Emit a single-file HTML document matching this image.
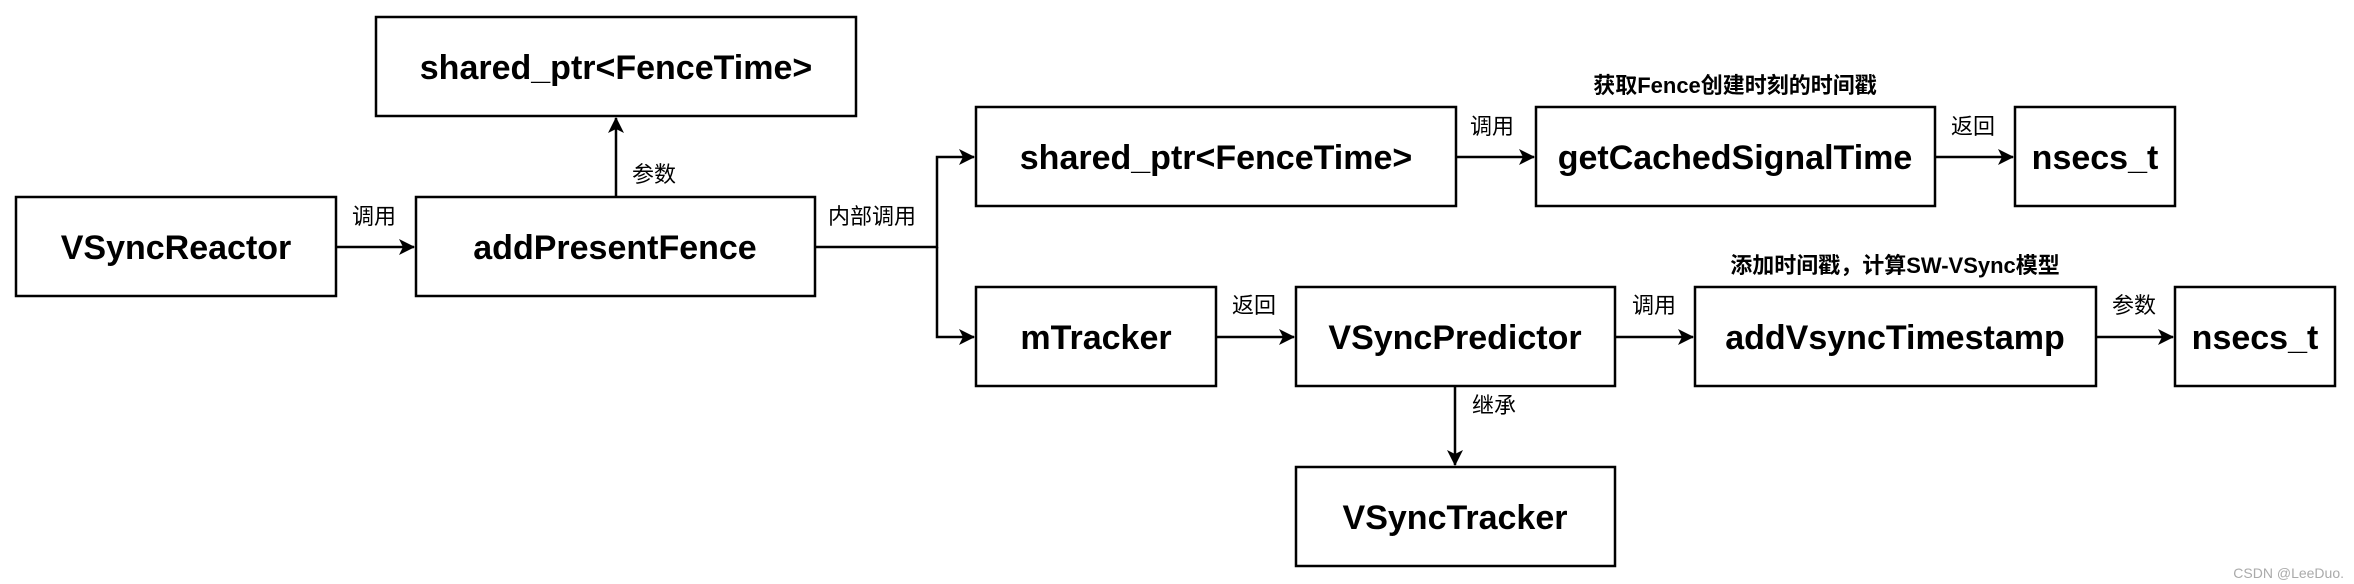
<!DOCTYPE html>
<html><head><meta charset="utf-8"><style>
html,body{margin:0;padding:0;background:#fff;}
svg{display:block;}
.b{font-family:"Liberation Sans","Noto Sans CJK SC",sans-serif;font-weight:bold;font-size:34px;fill:#000;}
.l{font-family:"Liberation Sans","Noto Sans CJK SC",sans-serif;font-size:22px;fill:#000;}
.h{font-family:"Liberation Sans","Noto Sans CJK SC",sans-serif;font-weight:bold;font-size:22px;fill:#000;}
rect{fill:#fff;stroke:#000;stroke-width:2.5;}
line,polyline{stroke:#000;stroke-width:2.5;fill:none;}
</style></head><body>
<svg width="2354" height="584" viewBox="0 0 2354 584" xmlns="http://www.w3.org/2000/svg">
<defs><marker id="a" markerWidth="18" markerHeight="18" refX="15" refY="8" orient="auto" markerUnits="userSpaceOnUse"><path d="M0,0 L16,8 L0,16 L4,8 Z" fill="#000"/></marker></defs>

<line x1="336" y1="247" x2="414" y2="247" marker-end="url(#a)"/>
<line x1="616" y1="197" x2="616" y2="118" marker-end="url(#a)"/>
<polyline points="815,247 937,247 937,157 974,157" marker-end="url(#a)"/>
<polyline points="937,247 937,337 974,337" marker-end="url(#a)"/>
<line x1="1456" y1="157" x2="1534" y2="157" marker-end="url(#a)"/>
<line x1="1935" y1="157" x2="2013" y2="157" marker-end="url(#a)"/>
<line x1="1216" y1="337" x2="1294" y2="337" marker-end="url(#a)"/>
<line x1="1615" y1="337" x2="1693" y2="337" marker-end="url(#a)"/>
<line x1="2096" y1="337" x2="2173" y2="337" marker-end="url(#a)"/>
<line x1="1455" y1="386" x2="1455" y2="465" marker-end="url(#a)"/>

<rect x="16" y="197" width="320" height="99"/>
<text class="b" x="176" y="259" text-anchor="middle">VSyncReactor</text>
<rect x="416" y="197" width="399" height="99"/>
<text class="b" x="615" y="259" text-anchor="middle">addPresentFence</text>
<rect x="376" y="17" width="480" height="99"/>
<text class="b" x="616" y="79" text-anchor="middle">shared_ptr&lt;FenceTime&gt;</text>
<rect x="976" y="107" width="480" height="99"/>
<text class="b" x="1216" y="169" text-anchor="middle">shared_ptr&lt;FenceTime&gt;</text>
<rect x="1536" y="107" width="399" height="99"/>
<text class="b" x="1735" y="169" text-anchor="middle">getCachedSignalTime</text>
<rect x="2015" y="107" width="160" height="99"/>
<text class="b" x="2095" y="169" text-anchor="middle">nsecs_t</text>
<rect x="976" y="287" width="240" height="99"/>
<text class="b" x="1096" y="349" text-anchor="middle">mTracker</text>
<rect x="1296" y="287" width="319" height="99"/>
<text class="b" x="1455" y="349" text-anchor="middle">VSyncPredictor</text>
<rect x="1695" y="287" width="401" height="99"/>
<text class="b" x="1895" y="349" text-anchor="middle">addVsyncTimestamp</text>
<rect x="2175" y="287" width="160" height="99"/>
<text class="b" x="2255" y="349" text-anchor="middle">nsecs_t</text>
<rect x="1296" y="467" width="319" height="99"/>
<text class="b" x="1455" y="529" text-anchor="middle">VSyncTracker</text>

<text class="l" x="352" y="224">调用</text>
<text class="l" x="632" y="182">参数</text>
<text class="l" x="828" y="224">内部调用</text>
<text class="l" x="1470" y="134">调用</text>
<text class="l" x="1951" y="134">返回</text>
<text class="l" x="1232" y="313">返回</text>
<text class="l" x="1632" y="313">调用</text>
<text class="l" x="2112" y="313">参数</text>
<text class="l" x="1472" y="413">继承</text>
<text class="h" x="1735" y="93" text-anchor="middle">获取Fence创建时刻的时间戳</text>
<text class="h" x="1895" y="273" text-anchor="middle">添加时间戳，计算SW-VSync模型</text>
<text x="2344" y="578" text-anchor="end" font-family="Liberation Sans, sans-serif" font-size="14" fill="#aaa">CSDN @LeeDuo.</text>
</svg>
</body></html>
